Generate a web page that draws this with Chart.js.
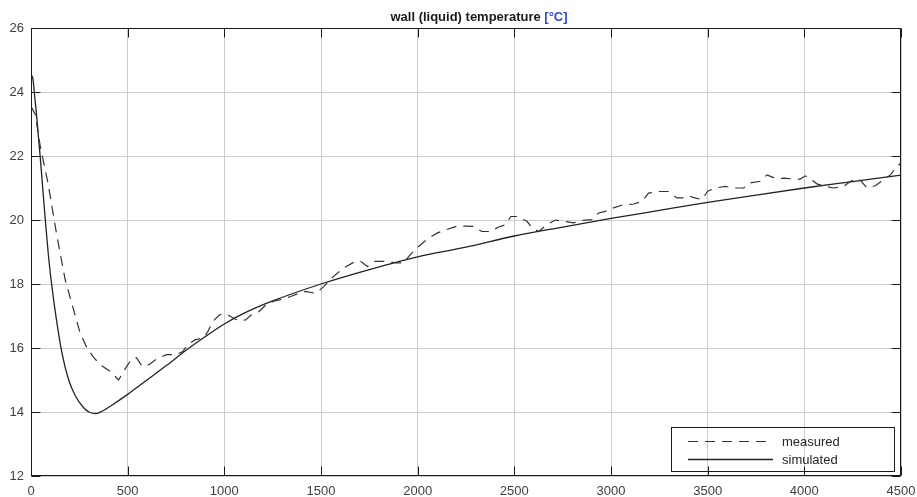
<!DOCTYPE html>
<html>
<head>
<meta charset="utf-8">
<script src="https://cdn.jsdelivr.net/npm/chart.js@4.4.1/dist/chart.umd.min.js"></script>
<style>
  html, body { margin: 0; padding: 0; background: #fff; }
  #wrap { width: 917px; height: 497px; position: relative; }
</style>
</head>
<body>
<div id="wrap"><canvas id="c" width="917" height="497"></canvas></div>
<script>
// ---- data ----
const titleMain = "wall (liquid) temperature ";
const titleUnit = "[°C]";
const seriesLabels = ["measured", "simulated"];

const xTicks = [0, 500, 1000, 1500, 2000, 2500, 3000, 3500, 4000, 4500];
const yTicks = [12, 14, 16, 18, 20, 22, 24, 26];

const measuredT = [0, 22, 48, 88, 134, 177, 220, 255, 290, 325, 358, 414, 453, 490, 520, 545, 575, 610, 650, 700, 750, 785, 810, 850, 893, 915, 944, 975, 1013, 1050, 1080, 1110, 1140, 1180, 1215, 1255, 1290, 1340, 1390, 1420, 1470, 1505, 1525, 1565, 1617, 1670, 1705, 1740, 1780, 1840, 1885, 1927, 1962, 2000, 2035, 2060, 2100, 2150, 2200, 2255, 2290, 2332, 2375, 2419, 2453, 2482, 2513, 2565, 2595, 2626, 2668, 2712, 2755, 2807, 2850, 2900, 2936, 2970, 3013, 3065, 3117, 3160, 3194, 3246, 3298, 3341, 3376, 3400, 3428, 3470, 3500, 3539, 3591, 3634, 3686, 3720, 3772, 3807, 3858, 3893, 3945, 3979, 4005, 4031, 4065, 4109, 4152, 4204, 4238, 4265, 4290, 4324, 4367, 4410, 4445, 4479, 4500];
const measuredV = [23.55, 23.3, 22.3, 21.15, 19.5, 18.13, 17.2, 16.45, 16.0, 15.7, 15.48, 15.25, 15.0, 15.38, 15.65, 15.7, 15.43, 15.48, 15.66, 15.79, 15.79, 15.89, 16.1, 16.26, 16.31, 16.52, 16.85, 17.04, 17.06, 16.92, 16.85, 16.88, 17.04, 17.14, 17.35, 17.46, 17.51, 17.6, 17.72, 17.77, 17.71, 17.87, 17.98, 18.24, 18.5, 18.68, 18.71, 18.55, 18.71, 18.71, 18.66, 18.66, 18.92, 19.15, 19.33, 19.44, 19.59, 19.7, 19.8, 19.81, 19.8, 19.64, 19.64, 19.78, 19.85, 20.11, 20.11, 19.96, 19.74, 19.64, 19.85, 20.0, 19.96, 19.91, 19.99, 20.01, 20.22, 20.27, 20.38, 20.48, 20.5, 20.58, 20.84, 20.89, 20.89, 20.69, 20.69, 20.76, 20.7, 20.64, 20.9, 21.0, 21.05, 21.0, 21.0, 21.16, 21.21, 21.41, 21.28, 21.31, 21.28, 21.28, 21.38, 21.28, 21.13, 21.05, 21.0, 21.05, 21.2, 21.28, 21.24, 21.0, 21.07, 21.26, 21.41, 21.67, 21.78];

const simulatedT = [0, 5, 10, 20, 30, 40, 50, 60, 74, 90, 108, 130, 160, 195, 230, 270, 300, 335, 370, 420, 500, 600, 700, 800, 900, 1000, 1100, 1250, 1500, 1750, 2000, 2250, 2500, 2750, 3000, 3250, 3500, 3750, 4000, 4250, 4500];
const simulatedV = [24.45, 24.5, 24.4, 23.8, 23.2, 22.5, 21.8, 21.05, 20.0, 18.9, 17.93, 16.95, 15.85, 15.0, 14.5, 14.15, 14.0, 13.95, 14.03, 14.22, 14.55, 15.0, 15.45, 15.92, 16.35, 16.75, 17.08, 17.47, 18.0, 18.45, 18.85, 19.15, 19.5, 19.78, 20.05, 20.3, 20.55, 20.78, 21.0, 21.2, 21.4];

const toPts = (ts, vs) => ts.map((t, i) => ({ x: t, y: vs[i] }));

const FONT = "'Liberation Sans', Arial, Helvetica, sans-serif";

// inner ticks, full box, title, legend
const decor = {
  id: 'decor',
  afterDraw(chart) {
    const ctx = chart.ctx;
    const a = chart.chartArea;
    const xs = chart.scales.x, ys = chart.scales.y;
    const L = Math.round(a.left) + 0.5, R = Math.round(a.right) - 0.5;
    const T = Math.round(a.top) + 0.5, B = Math.round(a.bottom) - 0.5;
    const tl = 9;
    ctx.save();
    ctx.strokeStyle = '#1a1a1a';
    ctx.lineWidth = 1;
    ctx.beginPath();
    xTicks.forEach(v => {
      const px = Math.round(xs.getPixelForValue(v)) + 0.5;
      ctx.moveTo(px, B); ctx.lineTo(px, B - tl);
      ctx.moveTo(px, T); ctx.lineTo(px, T + tl);
    });
    yTicks.forEach(v => {
      const py = Math.round(ys.getPixelForValue(v)) + 0.5;
      ctx.moveTo(L, py); ctx.lineTo(L + tl, py);
      ctx.moveTo(R, py); ctx.lineTo(R - tl, py);
    });
    ctx.stroke();
    ctx.strokeRect(L, T, R - L, B - T);

    // title
    ctx.font = "bold 13px " + FONT;
    ctx.textBaseline = 'alphabetic';
    ctx.textAlign = 'left';
    const w1 = ctx.measureText(titleMain).width;
    const w2 = ctx.measureText(titleUnit).width;
    const tx = 479 - (w1 + w2) / 2;
    ctx.fillStyle = '#1a1a1a';
    ctx.fillText(titleMain, tx, 21);
    ctx.fillStyle = '#2a4fd1';
    ctx.fillText(titleUnit, tx + w1, 21);

    // legend
    const lx = 671.5, ly = 427.5, lw = 223, lh = 44;
    ctx.strokeStyle = '#1a1a1a';
    ctx.strokeRect(lx, ly, lw, lh);
    const ds = chart.data.datasets;
    const rows = [441, 459];
    ds.forEach((d, i) => {
      ctx.save();
      ctx.strokeStyle = d.borderColor;
      ctx.lineWidth = d.borderWidth;
      ctx.setLineDash(d.borderDash || []);
      ctx.beginPath();
      ctx.moveTo(688, rows[i] + 0.5);
      ctx.lineTo(773, rows[i] + 0.5);
      ctx.stroke();
      ctx.restore();
      ctx.font = "13px " + FONT;
      ctx.fillStyle = '#262626';
      ctx.textBaseline = 'middle';
      ctx.fillText(d.label, 782, rows[i] + 1);
    });
    ctx.restore();
  }
};

new Chart(document.getElementById('c'), {
  type: 'line',
  data: {
    datasets: [
      {
        label: seriesLabels[0],
        data: toPts(measuredT, measuredV),
        borderColor: '#333333',
        borderWidth: 1.2,
        borderDash: [10, 7],
        pointRadius: 0,
        tension: 0,
        fill: false
      },
      {
        label: seriesLabels[1],
        data: toPts(simulatedT, simulatedV),
        borderColor: '#222222',
        borderWidth: 1.3,
        pointRadius: 0,
        cubicInterpolationMode: 'monotone',
        fill: false
      }
    ]
  },
  options: {
    responsive: false,
    animation: false,
    events: [],
    layout: { padding: { top: 28, right: 16, left: 0, bottom: 0 } },
    plugins: { legend: { display: false }, title: { display: false }, tooltip: { enabled: false } },
    scales: {
      x: {
        type: 'linear',
        min: 0, max: 4500,
        afterBuildTicks: s => { s.ticks = xTicks.map(v => ({ value: v })); },
        afterFit: s => { s.height = 21; s.paddingLeft = 0; s.paddingRight = 0; },
        grid: { color: '#cccccc', lineWidth: 1, drawTicks: false },
        border: { display: false },
        ticks: { padding: 8, color: '#404040', font: { family: FONT, size: 13 }, callback: v => String(v), maxRotation: 0 }
      },
      y: {
        type: 'linear',
        min: 12, max: 26,
        afterBuildTicks: s => { s.ticks = yTicks.map(v => ({ value: v })); },
        afterFit: s => { s.width = 31; s.paddingTop = 0; s.paddingBottom = 0; },
        grid: { color: '#cccccc', lineWidth: 1, drawTicks: false },
        border: { display: false },
        ticks: { padding: 7, color: '#404040', font: { family: FONT, size: 13 }, callback: v => String(v) }
      }
    }
  },
  plugins: [decor]
});
</script>
</body>
</html>
